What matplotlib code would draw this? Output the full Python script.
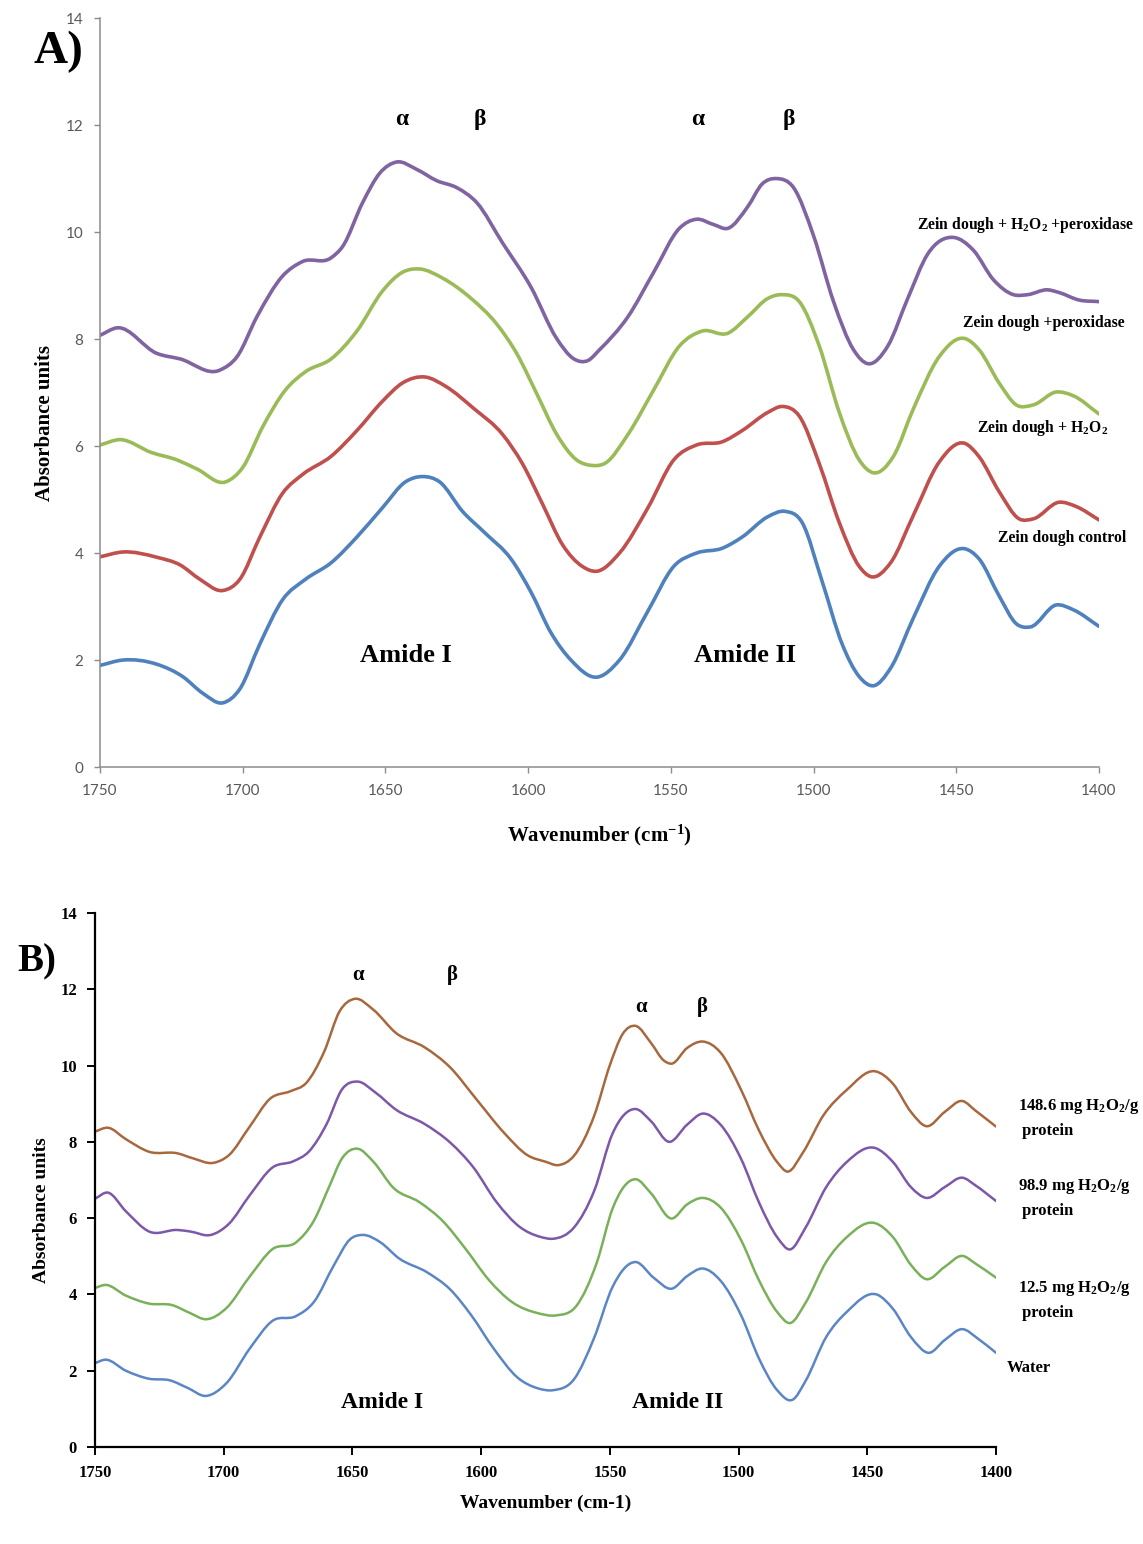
import numpy as np
import matplotlib
matplotlib.use("Agg")
import matplotlib.pyplot as plt
from matplotlib.path import Path
from matplotlib.patches import PathPatch

plt.rcParams["mathtext.fontset"] = "custom"
plt.rcParams["mathtext.rm"] = "Liberation Serif:bold"
plt.rcParams["mathtext.it"] = "Liberation Serif:bold"
plt.rcParams["mathtext.bf"] = "Liberation Serif:bold"

SERIF = "Liberation Serif"

# ---------------- Panel A data ----------------
a_both_x = [1750, 1744, 1730, 1722, 1708, 1702, 1695, 1686, 1679, 1669,
            1665, 1658, 1652, 1646, 1639, 1632, 1625, 1618, 1609, 1599,
            1590, 1584, 1579, 1575, 1565, 1556, 1547, 1541, 1535, 1530,
            1523, 1518, 1513, 1507, 1500, 1493, 1486, 1481, 1474, 1467,
            1460, 1451, 1444, 1437, 1430, 1425, 1418, 1414, 1407, 1400]
a_both_y = [8.07, 8.21, 7.73, 7.63, 7.42, 7.67, 8.42, 9.18, 9.45, 9.52,
            9.73, 10.55, 11.1, 11.31, 11.17, 10.96, 10.83, 10.55, 9.8, 8.97,
            8.01, 7.63, 7.6, 7.8, 8.42, 9.25, 10.07, 10.24, 10.14, 10.07,
            10.48, 10.9, 11.0, 10.83, 9.93, 8.7, 7.8, 7.54, 7.87, 8.76,
            9.59, 9.9, 9.66, 9.11, 8.83, 8.83, 8.92, 8.87, 8.73, 8.7]

a_perox_x = [1750, 1743, 1732, 1723, 1716, 1706, 1700, 1693, 1685, 1678,
             1669, 1660, 1651, 1644, 1638, 1630, 1620, 1611, 1604, 1597,
             1590, 1583, 1578, 1573, 1565, 1556, 1547, 1539, 1530, 1523,
             1516, 1511, 1505, 1498, 1491, 1484, 1479, 1472, 1465, 1456,
             1447, 1442, 1435, 1429, 1423, 1415, 1409, 1400]
a_perox_y = [6.02, 6.12, 5.88, 5.74, 5.57, 5.33, 5.6, 6.36, 7.05, 7.39,
             7.63, 8.15, 8.9, 9.25, 9.31, 9.14, 8.76, 8.28, 7.73, 6.98,
             6.22, 5.74, 5.64, 5.68, 6.22, 7.05, 7.87, 8.15, 8.11, 8.42,
             8.76, 8.83, 8.7, 7.87, 6.63, 5.74, 5.5, 5.81, 6.7, 7.67,
             8.01, 7.8, 7.18, 6.77, 6.77, 7.01, 6.94, 6.6]

a_h2o2_x = [1750, 1742, 1730, 1722, 1715, 1707, 1701, 1694, 1686, 1679,
            1669, 1660, 1651, 1644, 1636, 1629, 1619, 1609, 1602, 1595,
            1588, 1581, 1576, 1568, 1558, 1549, 1541, 1532, 1525, 1516,
            1511, 1505, 1498, 1491, 1484, 1480, 1473, 1465, 1456, 1447,
            1442, 1435, 1428, 1423, 1414, 1408, 1400]
a_h2o2_y = [3.93, 4.02, 3.92, 3.78, 3.51, 3.3, 3.51, 4.3, 5.12, 5.47,
            5.81, 6.29, 6.84, 7.18, 7.29, 7.12, 6.7, 6.22, 5.67, 4.92,
            4.16, 3.75, 3.66, 4.0, 4.85, 5.74, 6.02, 6.08, 6.29, 6.63,
            6.74, 6.56, 5.67, 4.57, 3.75, 3.56, 3.82, 4.71, 5.7, 6.05,
            5.8, 5.15, 4.64, 4.64, 4.95, 4.87, 4.62]

a_ctrl_x = [1750, 1742, 1730, 1721, 1714, 1707, 1701, 1694, 1686, 1678,
            1669, 1660, 1651, 1643, 1637, 1631, 1623, 1615, 1606, 1599,
            1592, 1585, 1576, 1568, 1558, 1549, 1541, 1532, 1525, 1516,
            1510, 1504, 1497, 1490, 1484, 1479, 1473, 1465, 1456, 1447,
            1442, 1435, 1429, 1424, 1415, 1409, 1400]
a_ctrl_y = [1.9, 2.0, 1.92, 1.69, 1.38, 1.2, 1.46, 2.3, 3.13, 3.51,
            3.82, 4.3, 4.85, 5.33, 5.43, 5.33, 4.78, 4.37, 3.89, 3.27,
            2.51, 2.0, 1.68, 2.0, 2.92, 3.75, 4.0, 4.09, 4.3, 4.68,
            4.78, 4.57, 3.47, 2.3, 1.69, 1.52, 1.85, 2.79, 3.75, 4.08,
            3.89, 3.2, 2.68, 2.62, 3.03, 2.94, 2.63]

# ---------------- Panel B data ----------------
b_148_x = [1750, 1745, 1738, 1729, 1718, 1712, 1704, 1698, 1690, 1682,
           1674, 1668, 1661, 1655, 1649, 1642, 1633, 1622, 1612, 1602,
           1591, 1582, 1575, 1570, 1564, 1556, 1550, 1545, 1540, 1534,
           1529, 1526, 1520, 1514, 1507, 1499, 1492, 1485, 1481, 1475,
           1467, 1458, 1447, 1440, 1433, 1427, 1420, 1413, 1408, 1400]
b_148_y = [8.27, 8.37, 8.07, 7.74, 7.7, 7.57, 7.45, 7.65, 8.39, 9.13,
           9.33, 9.54, 10.36, 11.42, 11.75, 11.47, 10.85, 10.48, 9.95, 9.13,
           8.23, 7.65, 7.48, 7.39, 7.63, 8.7, 10.01, 10.83, 11.04, 10.59,
           10.13, 10.05, 10.46, 10.63, 10.34, 9.36, 8.29, 7.47, 7.22, 7.72,
           8.7, 9.36, 9.85, 9.52, 8.78, 8.41, 8.78, 9.07, 8.82, 8.4]

b_989_x = [1750, 1745, 1738, 1729, 1718, 1713, 1705, 1698, 1690, 1681,
           1673, 1667, 1660, 1654, 1648, 1641, 1633, 1622, 1612, 1603,
           1594, 1585, 1577, 1572, 1564, 1556, 1549, 1540, 1534, 1527,
           1520, 1514, 1507, 1499, 1492, 1485, 1480, 1474, 1466, 1458,
           1447, 1440, 1433, 1427, 1420, 1413, 1408, 1400]
b_989_y = [6.51, 6.67, 6.18, 5.65, 5.69, 5.65, 5.56, 5.85, 6.59, 7.33,
           7.49, 7.74, 8.47, 9.38, 9.58, 9.29, 8.84, 8.47, 7.98, 7.33,
           6.42, 5.77, 5.51, 5.46, 5.75, 6.73, 8.21, 8.86, 8.54, 8.0,
           8.45, 8.74, 8.45, 7.55, 6.4, 5.5, 5.18, 5.75, 6.81, 7.47,
           7.84, 7.47, 6.81, 6.53, 6.81, 7.06, 6.86, 6.45]

b_125_x = [1750, 1746, 1738, 1729, 1720, 1713, 1707, 1699, 1690, 1681,
           1672, 1665, 1659, 1654, 1648, 1642, 1634, 1624, 1615, 1606,
           1597, 1588, 1578, 1571, 1563, 1555, 1549, 1540, 1534, 1526,
           1520, 1514, 1507, 1499, 1492, 1485, 1480, 1474, 1466, 1458,
           1447, 1440, 1433, 1427, 1420, 1413, 1408, 1400]
b_125_y = [4.17, 4.25, 3.97, 3.76, 3.72, 3.51, 3.35, 3.64, 4.46, 5.19,
           5.36, 5.93, 6.83, 7.57, 7.82, 7.49, 6.79, 6.42, 5.93, 5.19,
           4.38, 3.8, 3.51, 3.45, 3.7, 4.85, 6.24, 7.02, 6.65, 5.99,
           6.36, 6.53, 6.28, 5.42, 4.36, 3.54, 3.25, 3.78, 4.85, 5.5,
           5.87, 5.5, 4.77, 4.4, 4.72, 5.01, 4.81, 4.44]

b_water_x = [1750, 1746, 1738, 1729, 1721, 1714, 1707, 1699, 1690, 1681,
             1672, 1665, 1657, 1651, 1646, 1639, 1632, 1621, 1612, 1604,
             1595, 1586, 1578, 1572, 1564, 1556, 1549, 1540, 1533, 1526,
             1520, 1514, 1507, 1499, 1492, 1485, 1479, 1474, 1466, 1458,
             1446, 1440, 1433, 1426, 1420, 1413, 1407, 1400]
b_water_y = [2.2, 2.29, 2.0, 1.79, 1.75, 1.55, 1.34, 1.67, 2.57, 3.31,
             3.43, 3.8, 4.79, 5.44, 5.56, 5.36, 4.95, 4.58, 4.13, 3.47,
             2.57, 1.83, 1.54, 1.49, 1.77, 2.88, 4.19, 4.85, 4.44, 4.15,
             4.48, 4.68, 4.36, 3.45, 2.31, 1.49, 1.24, 1.73, 2.88, 3.54,
             3.99, 3.62, 2.88, 2.47, 2.8, 3.09, 2.84, 2.47]

xticks = [1750, 1700, 1650, 1600, 1550, 1500, 1450, 1400]
yticks = [0, 2, 4, 6, 8, 10, 12, 14]


def smooth_line(ax, x, y, color, lw):
    # smoothed line through the read points (cubic Hermite drawn as Bezier)
    x = np.asarray(x, float)
    y = np.asarray(y, float)
    h = np.diff(x)
    d = np.diff(y) / h
    m = np.empty_like(y)
    m[0], m[-1] = d[0], d[-1]
    m[1:-1] = (h[1:] * d[:-1] + h[:-1] * d[1:]) / (h[:-1] + h[1:])
    verts = [(x[0], y[0])]
    codes = [Path.MOVETO]
    for i in range(len(x) - 1):
        verts += [(x[i] + h[i] / 3, y[i] + m[i] * h[i] / 3),
                  (x[i + 1] - h[i] / 3, y[i + 1] - m[i + 1] * h[i] / 3),
                  (x[i + 1], y[i + 1])]
        codes += [Path.CURVE4] * 3
    ax.add_patch(PathPatch(Path(verts, codes), facecolor="none",
                           edgecolor=color, lw=lw, capstyle="round",
                           joinstyle="round"))


def bold(ax, x, y, s, size, **kw):
    ax.text(x, y, s, fontfamily=SERIF, fontweight="bold", fontsize=size,
            ha=kw.pop("ha", "center"), va=kw.pop("va", "center"), **kw)


fig = plt.figure(figsize=(11.43, 15.44), dpi=100)

# ---------------- Panel A ----------------
axA = fig.add_axes([0.0875, 0.5032, 0.8740, 0.4851])
smooth_line(axA, a_ctrl_x, a_ctrl_y, "#4F81BD", 2.6)
smooth_line(axA, a_h2o2_x, a_h2o2_y, "#C0504D", 2.6)
smooth_line(axA, a_perox_x, a_perox_y, "#9BBB59", 2.6)
smooth_line(axA, a_both_x, a_both_y, "#8064A2", 2.6)
axA.set_xlim(1750, 1400)
axA.set_ylim(0, 14)
axA.set_xticks(xticks)
axA.set_yticks(yticks)
for s in ["top", "right"]:
    axA.spines[s].set_visible(False)
for s in ["left", "bottom"]:
    axA.spines[s].set_color("#8c8c8c")
    axA.spines[s].set_linewidth(1.1)
axA.tick_params(colors="#8c8c8c", length=4, width=1.0, pad=8,
                labelcolor="#595959", labelsize=11)
for lab in axA.get_xticklabels() + axA.get_yticklabels():
    lab.set_fontfamily("Lato")

bold(axA, 1644, 12.1, r"$\alpha$", 17)
bold(axA, 1617, 12.1, r"$\beta$", 17)
bold(axA, 1540.5, 12.1, r"$\alpha$", 17)
bold(axA, 1508.6, 12.1, r"$\beta$", 17)
bold(axA, 1643, 2.09, "Amide I", 19)
bold(axA, 1524, 2.09, "Amide II", 19)
bold(axA, 1425.9, 10.13, r"Zein dough + H$_2$O$_2$ +peroxidase", 11.3)
bold(axA, 1419.2, 8.3, "Zein dough +peroxidase", 11.3)
bold(axA, 1419.9, 6.34, r"Zein dough + H$_2$O$_2$", 11.3)
bold(axA, 1412.9, 4.28, "Zein dough control", 11.3)
bold(axA, 0.5, -0.091, r"Wavenumber (cm$^{-1}$)", 15, transform=axA.transAxes)
bold(axA, -0.055, 0.459, "Absorbance units", 15, rotation=90,
     transform=axA.transAxes)
fig.text(58 / 1143, 1 - 52 / 1544, "A)", fontfamily=SERIF, fontweight="bold",
         fontsize=34, ha="center", va="center")

# ---------------- Panel B ----------------
axB = fig.add_axes([0.0831, 0.0628, 0.7883, 0.3459])
smooth_line(axB, b_water_x, b_water_y, "#5B86C5", 1.8)
smooth_line(axB, b_125_x, b_125_y, "#79B05A", 1.8)
smooth_line(axB, b_989_x, b_989_y, "#7D57A8", 1.8)
smooth_line(axB, b_148_x, b_148_y, "#A8683E", 1.8)
axB.set_xlim(1750, 1400)
axB.set_ylim(0, 14)
axB.set_xticks(xticks)
axB.set_yticks(yticks)
for s in ["top", "right"]:
    axB.spines[s].set_visible(False)
for s in ["left", "bottom"]:
    axB.spines[s].set_color("black")
    axB.spines[s].set_linewidth(1.6)
axB.tick_params(colors="black", length=6, width=1.4, pad=7, labelsize=12)
for lab in axB.get_xticklabels() + axB.get_yticklabels():
    lab.set_fontfamily(SERIF)
    lab.set_fontweight("bold")

bold(axB, 1647.4, 12.38, r"$\alpha$", 15)
bold(axB, 1611.3, 12.38, r"$\beta$", 15)
bold(axB, 1537.5, 11.54, r"$\alpha$", 15)
bold(axB, 1514.2, 11.54, r"$\beta$", 15)
bold(axB, 1638.5, 1.18, "Amide I", 17)
bold(axB, 1523.5, 1.18, "Amide II", 17)
bold(axB, 1391.4, 8.63, "148.6 mg H$_2$O$_2$/g\n protein", 12, ha="left",
     linespacing=1.6)
bold(axB, 1391.4, 6.53, "98.9 mg H$_2$O$_2$/g\n protein", 12, ha="left",
     linespacing=1.6)
bold(axB, 1391.4, 3.85, "12.5 mg H$_2$O$_2$/g\n protein", 12, ha="left",
     linespacing=1.6)
bold(axB, 1395.7, 2.07, "Water", 12, ha="left")
bold(axB, 0.5, -0.105, "Wavenumber (cm-1)", 14, transform=axB.transAxes)
bold(axB, -0.059, 0.444, "Absorbance units", 14, rotation=90,
     transform=axB.transAxes)
fig.text(37 / 1143, 1 - 962 / 1544, "B)", fontfamily=SERIF, fontweight="bold",
         fontsize=28, ha="center", va="center")

fig.savefig("out.png", dpi=100)
